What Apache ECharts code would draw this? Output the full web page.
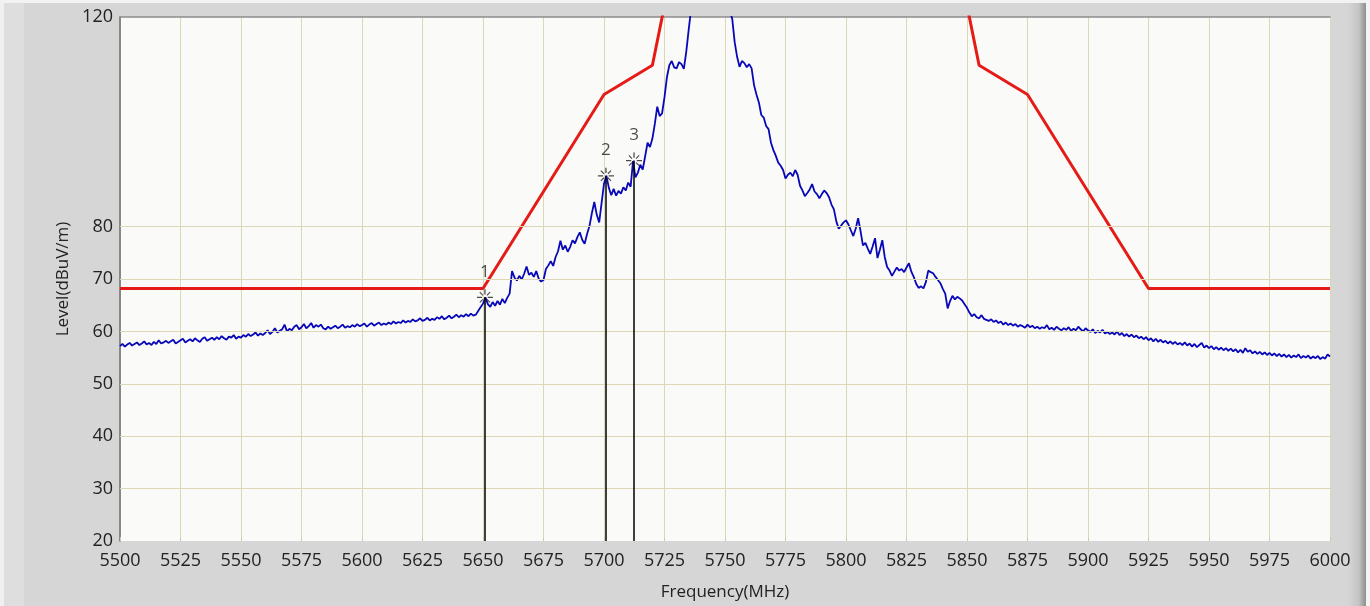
<!DOCTYPE html>
<html>
<head>
<meta charset="utf-8">
<script src="https://cdn.jsdelivr.net/npm/echarts@6/dist/echarts.min.js"></script>
<style>
html,body{margin:0;padding:0;background:#ffffff;}
#chart{width:1370px;height:606px;}
</style>
</head>
<body>
<div id="chart"></div>
<script>
// Sweep: start frequency and step (MHz)
const startFreq = 5500;
const stepMHz = 1;
// Measured level (dBuV/m), one value per MHz from 5500 to 6000
const levels = [
57.2,57.6,57.1,57.5,57.8,57.3,57.6,57.9,57.4,57.7,
58.1,57.5,57.8,57.4,58.0,57.6,58.3,57.7,57.9,58.2,
57.8,58.1,58.4,57.7,58.0,58.3,58.6,57.9,58.2,58.5,
58.1,58.7,58.3,58.0,58.6,58.9,58.2,58.5,58.8,58.4,
58.9,58.5,59.1,58.7,58.4,59.0,58.8,59.3,58.6,59.0,
58.8,59.3,59.0,59.5,59.1,59.4,59.8,59.2,59.6,59.3,
59.7,60.2,59.5,59.9,60.6,59.8,60.1,60.4,61.3,60.0,
60.5,60.2,60.9,61.2,60.4,60.8,61.4,60.6,61.0,61.6,
60.7,61.2,60.9,61.3,60.6,60.4,60.9,60.5,60.8,61.1,
60.6,60.9,61.3,60.7,61.0,60.8,61.2,60.9,61.4,61.0,
61.2,61.5,60.9,61.3,61.6,61.1,61.4,61.7,61.2,61.5,
61.3,61.7,61.4,61.9,61.5,61.8,61.6,62.1,61.7,62.0,
61.8,62.3,61.9,62.1,62.5,62.0,62.2,62.6,62.1,62.4,
62.2,62.7,62.4,62.9,62.3,62.6,63.0,62.5,62.8,63.2,
62.7,63.1,62.8,63.3,62.9,63.4,63.0,63.2,63.9,64.6,
65.3,66.5,65.2,64.7,65.6,64.9,65.8,65.1,66.2,65.4,
66.4,67.2,71.5,70.3,69.7,70.6,69.9,71.0,72.4,70.8,
71.2,70.4,71.5,70.1,69.5,69.8,71.9,72.6,73.4,72.5,
74.2,75.3,77.3,75.6,76.4,75.2,76.1,77.4,76.8,78.0,
78.9,77.5,76.7,78.6,80.1,82.6,84.7,82.3,80.8,84.5,
88.2,89.7,87.4,86.0,87.2,85.9,86.8,86.3,87.5,86.9,
88.4,87.6,92.5,89.4,90.3,91.8,90.9,93.4,96.0,95.2,
96.8,99.6,102.9,101.1,101.6,104.7,108.5,110.8,111.6,110.4,
110.2,111.4,111.0,110.1,113.4,117.6,121.5,125.0,128.0,130.0,
132.0,133.0,134.0,134.5,134.0,133.5,133.0,132.0,130.0,128.0,
126.0,123.0,121.2,119.6,115.2,112.4,110.5,111.6,111.2,110.4,
111.0,110.2,107.0,105.2,103.7,101.3,100.8,99.2,98.6,96.0,
94.6,93.5,92.2,91.6,90.8,89.2,89.9,90.3,89.6,90.8,
89.9,87.8,86.9,85.8,86.4,87.1,88.1,86.7,86.2,85.4,
86.2,86.9,86.4,85.6,84.2,83.3,81.0,79.6,80.2,80.8,
81.2,80.4,79.3,78.2,79.6,81.6,79.2,76.4,76.9,75.8,
74.8,76.2,77.8,74.0,75.6,77.4,74.2,72.3,71.6,70.6,
71.4,72.2,71.6,71.9,71.3,72.2,73.0,71.4,70.4,69.1,
68.3,68.6,68.2,69.4,71.6,71.3,71.1,70.4,69.8,69.2,
68.1,67.2,64.4,65.8,66.8,66.1,66.6,66.3,65.9,65.2,
64.5,63.6,62.9,63.3,62.7,62.5,63.1,62.4,62.2,62.0,
62.3,61.8,62.1,61.6,61.9,61.3,61.7,61.2,61.5,61.1,
61.4,60.9,61.2,61.0,60.7,61.3,60.8,61.1,60.6,60.9,
60.5,60.8,60.6,61.2,60.4,60.7,60.3,60.9,60.5,60.2,
60.6,60.3,60.8,60.1,60.5,60.2,60.9,60.4,60.0,60.6,
60.2,59.9,60.4,59.7,60.1,59.8,60.3,59.6,59.9,59.5,
59.8,59.4,60.0,59.3,59.7,59.1,59.5,59.0,59.4,58.9,
59.2,58.7,59.0,58.5,58.9,58.3,58.7,58.1,58.6,58.0,
58.4,57.9,58.2,57.7,58.1,57.6,58.0,57.5,57.8,57.4,
57.9,57.3,57.7,57.1,57.6,57.0,57.4,57.8,56.9,57.3,
56.8,57.2,56.6,57.0,56.5,56.9,56.4,56.8,56.3,56.7,
56.2,56.6,56.0,56.5,55.9,56.8,56.1,56.4,55.8,56.2,
55.7,56.1,55.6,56.0,55.5,55.9,55.4,55.8,55.3,55.7,
55.2,55.6,55.1,55.5,55.0,55.4,55.1,55.6,54.9,55.3,
55.0,55.4,54.8,55.2,54.9,55.3,54.7,55.1,54.8,55.6,
55.2
];
// Limit mask (red)
const maskLeftFreq = [5500, 5650, 5700, 5720, 5725];
const maskLeftLevel = [68.2, 68.2, 105.2, 110.8, 122.2];
const maskRightFreq = [5850, 5855, 5875, 5925, 6000];
const maskRightLevel = [122.2, 110.8, 105.2, 68.2, 68.2];
// Markers
const markerFreq = [5650.8, 5700.8, 5712.4];
const markerLevel = [66.5, 89.7, 92.6];
const markerNames = ['1', '2', '3'];
// Axis
const yLabelValues = [20, 30, 40, 50, 60, 70, 80, 120];
const yGridValues = [30, 40, 50, 60, 70, 80];

const traceData = levels.map((v, i) => [startFreq + i * stepMHz, v]);
const maskData = maskLeftFreq.map((f, i) => [f, maskLeftLevel[i]])
  .concat([[5787.5, null]])
  .concat(maskRightFreq.map((f, i) => [f, maskRightLevel[i]]));

const starPath = 'path://M9.2,0L10.8,0L10.8,6.5L9.2,6.5Z M9.2,13.5L10.8,13.5L10.8,20L9.2,20Z ' +
  'M0,9.2L6.5,9.2L6.5,10.8L0,10.8Z M13.5,9.2L20,9.2L20,10.8L13.5,10.8Z ' +
  'M12.0,7.0L15.9,3.1L16.9,4.1L13.0,8.0Z M7.0,12.0L3.1,15.9L4.1,16.9L8.0,13.0Z ' +
  'M8.0,7.0L4.1,3.1L3.1,4.1L7.0,8.0Z M13.0,12.0L16.9,15.9L15.9,16.9L12.0,13.0Z';

const gridColor = '#dcd8b6';
const labelFont = '"Open Sans", "Noto Sans", sans-serif';

const chart = echarts.init(document.getElementById('chart'), null, {renderer: 'canvas'});
chart.setOption({
  backgroundColor: '#d6d6d6',
  animation: false,
  graphic: [
    {type: 'rect', shape: {x: 0, y: 0, width: 1370, height: 3}, style: {fill: '#f2f2f2'}, silent: true},
    {type: 'rect', shape: {x: 0, y: 0, width: 4, height: 606}, style: {fill: '#f0f0f0'}, silent: true},
    {type: 'rect', shape: {x: 4, y: 3, width: 20, height: 603}, style: {fill: '#dedede'}, silent: true},
    {type: 'rect', shape: {x: 1348, y: 3, width: 18, height: 603},
      style: {fill: new echarts.graphic.LinearGradient(0, 0, 1, 0, [
        {offset: 0, color: '#d6d6d6'}, {offset: 0.6, color: '#c4c4c4'}, {offset: 1, color: '#8e8e8e'}])}, silent: true},
    {type: 'rect', shape: {x: 1366, y: 0, width: 4, height: 606}, style: {fill: '#f4f4f4'}, silent: true}
  ],
  grid: {
    left: 120, right: 40, top: 17, bottom: 64,
    show: true, backgroundColor: '#fafaf8', borderWidth: 0
  },
  xAxis: [{
    type: 'value', min: 5500, max: 6000, interval: 25,
    name: 'Frequency(MHz)', nameLocation: 'middle', nameGap: 43,
    nameTextStyle: {color: '#222', fontSize: 17, fontFamily: labelFont},
    axisLine: {show: false},
    axisTick: {show: true, inside: true, length: 4, lineStyle: {color: '#cfcbaa'}},
    axisLabel: {color: '#222', fontSize: 18, fontFamily: labelFont, margin: 11,
      formatter: v => String(v)},
    splitLine: {show: true, lineStyle: {color: gridColor, width: 1}}
  }, {
    type: 'value', position: 'top', min: 5500, max: 6000,
    axisLine: {show: true, lineStyle: {color: '#8c8c8c', width: 1.5}},
    axisTick: {show: false}, axisLabel: {show: false}, splitLine: {show: false}
  }],
  yAxis: {
    type: 'value', min: 20, max: 120, interval: 10,
    name: 'Level(dBuV/m)', nameLocation: 'middle', nameGap: 46,
    nameTextStyle: {color: '#222', fontSize: 17, fontFamily: labelFont},
    axisLine: {show: true, lineStyle: {color: '#6e6e6e', width: 1.5}},
    axisTick: {show: false},
    axisLabel: {
      color: '#222', fontSize: 18, fontFamily: labelFont, margin: 7,
      formatter: v => yLabelValues.indexOf(v) >= 0 ? String(v) : ''
    },
    splitLine: {show: false}
  },
  series: [
    {
      type: 'line', name: 'grid', data: [], silent: true,
      markLine: {
        silent: true, symbol: 'none', label: {show: false},
        lineStyle: {color: gridColor, type: 'solid', width: 1},
        data: yGridValues.map(v => ({yAxis: v}))
      }
    },
    {
      type: 'line', name: 'Limit', data: maskData, showSymbol: false,
      connectNulls: false, clip: true,
      lineStyle: {color: '#e41b17', width: 3}, z: 3
    },
    {
      type: 'line', name: 'Level', data: traceData, showSymbol: false,
      clip: true, lineStyle: {color: '#0808b8', width: 1.8}, z: 4
    },
    {
      type: 'scatter', name: 'Markers',
      data: markerFreq.map((f, i) => ({value: [f, markerLevel[i]], name: markerNames[i]})),
      symbol: starPath, symbolSize: 16,
      itemStyle: {color: '#1e1e1e'},
      label: {show: true, position: 'top', distance: 9, formatter: p => p.name,
        color: '#222', fontSize: 17, fontFamily: labelFont},
      markLine: {
        silent: true, symbol: 'none', label: {show: false},
        lineStyle: {color: '#000', type: 'solid', width: 1.5},
        data: markerFreq.map((f, i) => [{coord: [f, 20]}, {coord: [f, markerLevel[i]]}])
      },
      z: 5
    }
  ]
});
</script>
</body>
</html>
